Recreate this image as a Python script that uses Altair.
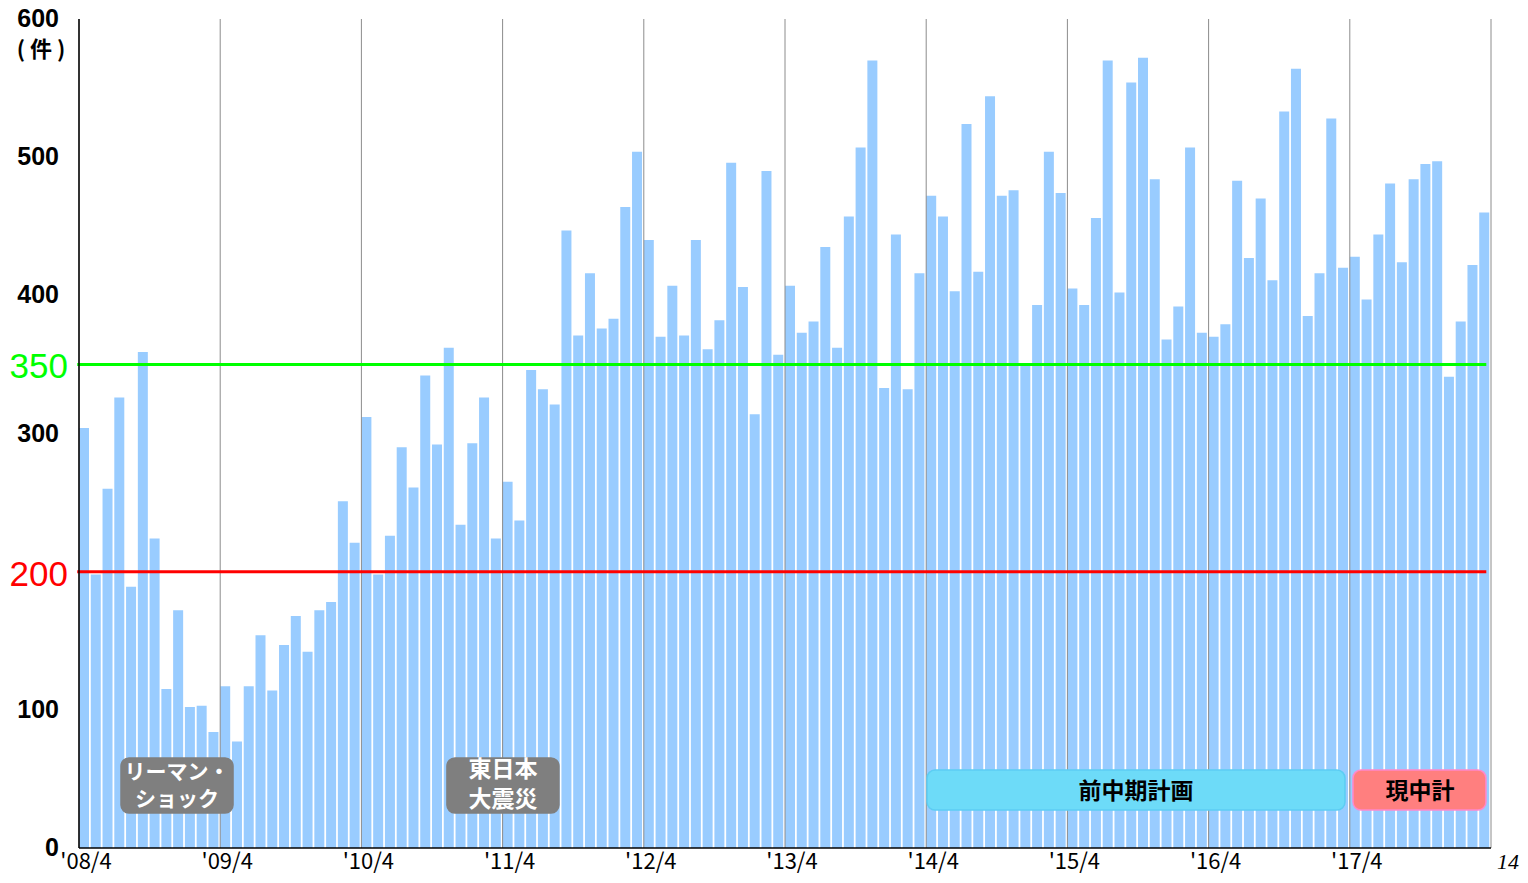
import altair as alt
import pandas as pd

# Monthly counts, 2008/4 .. 2018/3
values = [
    304, 198, 260, 326, 189, 359, 224, 115, 172, 102, 103, 84,
    117, 77, 117, 154, 114, 147, 168, 142, 172, 178, 251, 221,
    312, 198, 226, 290, 261, 342, 292, 362, 234, 293, 326, 224,
    265, 237, 346, 332, 321, 447, 371, 416, 376, 383, 464, 504,
    440, 370, 407, 371, 440, 361, 382, 496, 406, 314, 490, 357,
    407, 373, 381, 435, 362, 457, 507, 570, 333, 444, 332, 416,
    472, 457, 403, 524, 417, 544, 472, 476, 349, 393, 504, 474,
    405, 393, 456, 570, 402, 554, 572, 484, 368, 392, 507, 373,
    370, 379, 483, 427, 470, 411, 533, 564, 385, 416, 528, 420,
    428, 397, 444, 481, 424, 484, 495, 497, 341, 381, 422, 460,
]
tick_labels = ["'08/4", "'09/4", "'10/4", "'11/4", "'12/4",
               "'13/4", "'14/4", "'15/4", "'16/4", "'17/4"]
y_ticks = [0, 100, 300, 400, 500, 600]
ref_values = [350, 200]
ref_labels = ["350", "200"]
ref_colors = ["#00ff00", "#ff0000"]

W, H = 1412, 829

bars_df = pd.DataFrame({"i": list(range(len(values))), "count": values})
year_df = pd.DataFrame({"t": [12 * k for k in range(len(tick_labels) + 1)]})
xlab_df = pd.DataFrame({"t": [12 * k for k in range(len(tick_labels))], "label": tick_labels})
ylab_df = pd.DataFrame({"v": y_ticks, "label": [str(v) for v in y_ticks]})
ref_df = pd.DataFrame({"v": ref_values, "label": ref_labels, "c": ref_colors})

boxes_df = pd.DataFrame({
    "x0": [3.57, 31.27, 72.07, 108.27],
    "x1": [13.09, 40.79, 107.59, 119.57],
    "y0": [25.3, 25.3, 27.5, 27.5],
    "y1": [65.1, 65.1, 56.45, 56.45],
    "fill": ["#7f7f7f", "#7f7f7f", "#6ddbf8", "#ff7f7f"],
    "stroke": ["#7f7f7f", "#7f7f7f", "#5ccdf3", "#ff88cc"],
})
kana_df = pd.DataFrame({
    "x": [8.33],
    "y": [54.3],
    "text": ["リーマン・\nショック"],
    "c": ["#ffffff"],
})
kanji_df = pd.DataFrame({
    "x": [36.03, 89.83, 113.96],
    "y": [56.2, 40.5, 40.5],
    "text": ["東日本\n大震災", "前中期計画", "現中計"],
    "c": ["#ffffff", "#000000", "#000000"],
})

xscale = alt.Scale(domain=[0, 120], nice=False, zero=False)
yscale = alt.Scale(domain=[0, 600], nice=False)

bars = alt.Chart(bars_df).mark_rect(color="#99ccff").transform_calculate(
    i2="datum.i + 0.85"
).encode(
    x=alt.X("i:Q", scale=xscale, axis=None),
    x2="i2:Q",
    y=alt.Y("count:Q", scale=yscale, axis=None),
)

vgrid = alt.Chart(year_df).mark_rule(color="#8c8c8c", strokeWidth=1).encode(
    x=alt.X("t:Q", scale=xscale, axis=None),
)

hlines = alt.Chart(ref_df).mark_rule(strokeWidth=3).transform_calculate(
    xa="-0.15", xb="119.6"
).encode(
    y=alt.Y("v:Q", scale=yscale, axis=None),
    x=alt.X("xa:Q", scale=xscale, axis=None),
    x2="xb:Q",
    color=alt.Color("c:N", scale=None),
)

hlabels = alt.Chart(ref_df).mark_text(
    align="right", baseline="middle", font="Liberation Sans", fontSize=35, dy=3
).encode(
    y=alt.Y("v:Q", scale=yscale, axis=None),
    x=alt.value(-11),
    text="label:N",
    color=alt.Color("c:N", scale=None),
)

boxes = alt.Chart(boxes_df).mark_rect(cornerRadius=8, strokeWidth=1.5).encode(
    x=alt.X("x0:Q", scale=xscale, axis=None),
    x2="x1:Q",
    y=alt.Y("y0:Q", scale=yscale, axis=None),
    y2="y1:Q",
    fill=alt.Color("fill:N", scale=None),
    stroke=alt.Color("stroke:N", scale=None),
)

kana_texts = alt.Chart(kana_df).mark_text(
    font="Noto Sans CJK JP", fontWeight="bold", fontSize=21, baseline="middle",
    lineBreak="\n", lineHeight=27
).encode(
    x=alt.X("x:Q", scale=xscale, axis=None),
    y=alt.Y("y:Q", scale=yscale, axis=None),
    text="text:N",
    color=alt.Color("c:N", scale=None),
)
kanji_texts = alt.Chart(kanji_df).mark_text(
    font="Noto Sans CJK JP", fontWeight="bold", fontSize=23, baseline="middle",
    lineBreak="\n", lineHeight=30
).encode(
    x=alt.X("x:Q", scale=xscale, axis=None),
    y=alt.Y("y:Q", scale=yscale, axis=None),
    text="text:N",
    color=alt.Color("c:N", scale=None),
)

# axis lines
left_axis = alt.Chart(pd.DataFrame({"a": [0]})).mark_rule(
    color="#000000", strokeWidth=1.5
).encode(x=alt.value(0), y=alt.value(0), y2=alt.value(H))
bottom_axis = alt.Chart(pd.DataFrame({"a": [0]})).mark_rule(
    color="#000000", strokeWidth=1.5
).encode(x=alt.value(0), x2=alt.value(W), y=alt.value(H))

# axis labels
xlabels = alt.Chart(xlab_df).mark_text(
    font="Liberation Sans Narrow, Noto Sans CJK JP, sans-serif", fontSize=22,
    align="center", baseline="middle", dx=7, color="#000000"
).encode(
    x=alt.X("t:Q", scale=xscale, axis=None),
    y=alt.value(H + 14),
    text="label:N",
)
ylabels = alt.Chart(ylab_df).mark_text(
    font="Liberation Sans", fontWeight="bold", fontSize=25,
    align="right", baseline="middle", color="#000000"
).encode(
    y=alt.Y("v:Q", scale=yscale, axis=None),
    x=alt.value(-20),
    text="label:N",
)

unit = alt.Chart(pd.DataFrame({"t": ["(\u00a0件\u00a0)"]})).mark_text(
    font="Noto Sans CJK JP", fontWeight="bold", fontSize=22, align="center",
    baseline="middle", color="#000000"
).encode(x=alt.value(-38), y=alt.value(31), text="t:N")

page = alt.Chart(pd.DataFrame({"t": ["14"]})).mark_text(
    font="Liberation Serif", fontStyle="italic", fontSize=22, align="left",
    baseline="bottom", color="#000000"
).encode(x=alt.value(W + 6), y=alt.value(H + 26), text="t:N")

chart = alt.layer(
    bars, vgrid, hlines, hlabels, boxes, kana_texts, kanji_texts,
    left_axis, bottom_axis, xlabels, ylabels, unit, page
).properties(
    width=W, height=H,
    autosize=alt.AutoSizeParams(type="none"),
    padding={"left": 71, "top": 11, "right": 29, "bottom": 27},
    background="#ffffff",
).configure_view(stroke=None)

chart.save("out.html", embed_options={"renderer": "svg", "actions": False})
